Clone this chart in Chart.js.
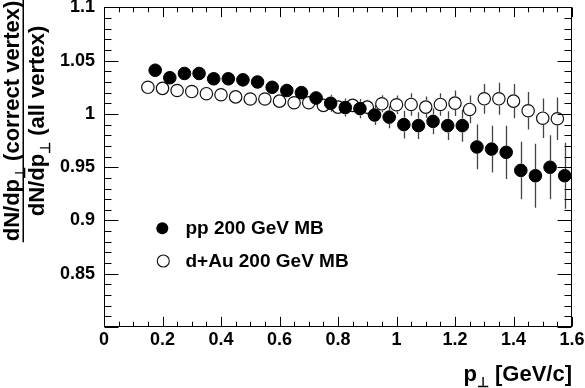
<!DOCTYPE html>
<html><head><meta charset="utf-8">
<script src="https://cdn.jsdelivr.net/npm/chart.js@4/dist/chart.umd.min.js"></script>
<style>html,body{margin:0;padding:0;background:#fff}</style>
</head><body>
<canvas id="c" width="585" height="388"></canvas>
<script>
// ---- data ----
const ppX = [0.175,0.225,0.275,0.325,0.375,0.425,0.475,0.525,0.575,0.625,0.675,0.725,0.775,0.825,0.875,0.925,0.975,1.025,1.075,1.125,1.175,1.225,1.275,1.325,1.375,1.425,1.475,1.525,1.575];
const ppY = [1.041,1.034,1.038,1.038,1.033,1.033,1.032,1.030,1.025,1.022,1.020,1.015,1.010,1.006,1.005,0.999,0.997,0.990,0.989,0.993,0.989,0.989,0.969,0.967,0.964,0.947,0.942,0.950,0.942];
const ppErr = [0.003,0.003,0.003,0.0035,0.0035,0.004,0.004,0.0045,0.005,0.0055,0.006,0.0065,0.008,0.0085,0.009,0.0095,0.0105,0.013,0.0126,0.012,0.0135,0.015,0.021,0.022,0.025,0.027,0.030,0.030,0.031];
const dAuX = [0.15,0.2,0.25,0.3,0.35,0.4,0.45,0.5,0.55,0.6,0.65,0.7,0.75,0.8,0.85,0.9,0.95,1.0,1.05,1.1,1.15,1.2,1.25,1.3,1.35,1.4,1.45,1.5,1.55];
const dAuY = [1.025,1.024,1.022,1.021,1.019,1.018,1.016,1.014,1.014,1.012,1.0105,1.0105,1.008,1.0064,1.008,1.0064,1.0095,1.0086,1.0089,1.0064,1.0089,1.0101,1.0042,1.0142,1.0142,1.012,1.003,0.996,0.9955];
const dAuErr = [0.002,0.002,0.002,0.0025,0.0025,0.003,0.003,0.0035,0.0035,0.004,0.004,0.0045,0.005,0.0055,0.006,0.007,0.008,0.0087,0.0105,0.010,0.0105,0.012,0.013,0.014,0.015,0.016,0.0175,0.0185,0.020];
const xTicks = [0,0.2,0.4,0.6,0.8,1.0,1.2,1.4,1.6];
const yTicks = [0.85,0.9,0.95,1.0,1.05,1.1];
const seriesNames = ['pp 200 GeV MB','d+Au 200 GeV MB'];
const xTitle = ['p','⊥',' [GeV/c]'];
const yTitleNum = ['dN/dp','⊥',' (correct vertex)'];
const yTitleDen = ['dN/dp','⊥',' (all vertex)'];

const FONT = "'Liberation Sans', Arial, Helvetica, sans-serif";
const R = 6.8;

const errs = [ppErr, dAuErr];

const errorBars = {
  id: 'errorBars',
  beforeDatasetsDraw(chart) {
    const ctx = chart.ctx, ys = chart.scales.y;
    ctx.save();
    ctx.strokeStyle = '#444';
    ctx.lineWidth = 1.3;
    chart.data.datasets.forEach((ds, di) => {
      const meta = chart.getDatasetMeta(di);
      meta.data.forEach((pt, i) => {
        const v = ds.data[i].y, e = errs[di][i];
        const yTop = ys.getPixelForValue(v + e), yBot = ys.getPixelForValue(v - e);
        const x = Math.round(pt.x) + 0.5;
        ctx.beginPath();
        if (pt.y - yTop > R) { ctx.moveTo(x, pt.y - R); ctx.lineTo(x, yTop); }
        if (yBot - pt.y > R) { ctx.moveTo(x, pt.y + R); ctx.lineTo(x, yBot); }
        ctx.stroke();
      });
    });
    ctx.restore();
  }
};

function drawParts(ctx, parts, x, y, big, small, subDy) {
  ctx.font = 'bold ' + big + 'px ' + FONT;
  ctx.fillText(parts[0], x, y);
  x += ctx.measureText(parts[0]).width;
  ctx.font = 'bold ' + small + 'px ' + FONT;
  ctx.fillText(parts[1], x, y + subDy);
  x += ctx.measureText(parts[1]).width;
  ctx.font = 'bold ' + big + 'px ' + FONT;
  ctx.fillText(parts[2], x, y);
}
function partsWidth(ctx, parts, big, small) {
  ctx.font = 'bold ' + big + 'px ' + FONT;
  let w = ctx.measureText(parts[0]).width + ctx.measureText(parts[2]).width;
  ctx.font = 'bold ' + small + 'px ' + FONT;
  return w + ctx.measureText(parts[1]).width;
}

const frame = {
  id: 'frame',
  afterDatasetsDraw(chart) {
    const ctx = chart.ctx, a = chart.chartArea, xs = chart.scales.x, ys = chart.scales.y;
    ctx.save();
    ctx.strokeStyle = '#000';
    ctx.lineWidth = 1;
    const L = Math.round(a.left) + 0.5, Rr = Math.round(a.right) - 0.5, T = Math.round(a.top) + 0.5, B = Math.round(a.bottom) - 0.5;
    ctx.strokeRect(L, T, Rr - L, B - T);
    ctx.beginPath();
    for (let k = 0; k <= 32; k++) {
      const v = k * 0.05;
      const px = Math.round(xs.getPixelForValue(v)) + 0.5;
      const len = (k % 4 === 0) ? 9.6 : 4.8;
      ctx.moveTo(px, B); ctx.lineTo(px, B - len);
      ctx.moveTo(px, T); ctx.lineTo(px, T + len);
    }
    for (let k = 0; k <= 30; k++) {
      const v = 0.8 + k * 0.01;
      const py = Math.round(ys.getPixelForValue(v)) + 0.5;
      const len = (k % 5 === 0) ? 14 : 7;
      ctx.moveTo(L, py); ctx.lineTo(L + len, py);
      ctx.moveTo(Rr, py); ctx.lineTo(Rr - len, py);
    }
    ctx.stroke();
    ctx.restore();
  },
  afterDraw(chart) {
    const ctx = chart.ctx, a = chart.chartArea;
    ctx.save();
    ctx.fillStyle = '#000';
    ctx.textBaseline = 'alphabetic';
    ctx.textAlign = 'left';
    const wx = partsWidth(ctx, xTitle, 22, 14);
    drawParts(ctx, xTitle, a.right - wx, 381, 22, 14, 6);
    ctx.translate(0, 121);
    ctx.rotate(-Math.PI / 2);
    const w1 = partsWidth(ctx, yTitleNum, 22, 14);
    const w2 = partsWidth(ctx, yTitleDen, 22, 14);
    drawParts(ctx, yTitleNum, -w1 / 2, 19, 22, 14, 6);
    drawParts(ctx, yTitleDen, -w2 / 2, 43.5, 22, 14, 6);
    const wl = Math.max(w1, w2) + 2;
    ctx.fillRect(-wl / 2, 22.5, wl, 1.5);
    ctx.restore();
    ctx.save();
    ctx.fillStyle = '#000';
    ctx.beginPath(); ctx.arc(162.3, 228.3, 6, 0, Math.PI * 2); ctx.fill();
    ctx.strokeStyle = '#111'; ctx.lineWidth = 1.1;
    ctx.beginPath(); ctx.arc(163.3, 261, 6, 0, Math.PI * 2); ctx.stroke();
    ctx.font = 'bold 19px ' + FONT;
    ctx.textBaseline = 'alphabetic';
    ctx.fillText(seriesNames[0], 185.5, 233.5);
    ctx.fillText(seriesNames[1], 185.5, 266.5);
    ctx.restore();
  }
};

const fmt = v => String(Number(v.toFixed(2)));

new Chart(document.getElementById('c'), {
  type: 'scatter',
  data: {
    datasets: [
      { label: seriesNames[0], data: ppX.map((x, i) => ({ x, y: ppY[i] })),
        pointRadius: R - 0.5, borderWidth: 1, backgroundColor: '#000', borderColor: '#000', pointHoverRadius: R - 0.5 },
      { label: seriesNames[1], data: dAuX.map((x, i) => ({ x, y: dAuY[i] })),
        pointRadius: R - 0.6, borderWidth: 1.2, backgroundColor: 'rgba(0,0,0,0)', borderColor: '#111', pointHoverRadius: R - 0.6 }
    ]
  },
  options: {
    responsive: false,
    animation: false,
    devicePixelRatio: 1,
    layout: { padding: { top: 6, right: 13, left: 0, bottom: 0 } },
    plugins: { legend: { display: false }, tooltip: { enabled: false } },
    scales: {
      x: {
        type: 'linear', min: 0, max: 1.6,
        grid: { display: false, drawTicks: false }, border: { display: false },
        afterBuildTicks: s => { s.ticks = xTicks.map(v => ({ value: v })); },
        afterFit: s => { s.height = 61; s.paddingLeft = 0; s.paddingRight = 0; },
        ticks: { color: '#000', font: { family: FONT, size: 18, weight: 'bold' }, padding: 2, maxRotation: 0, autoSkip: false, callback: v => fmt(v) }
      },
      y: {
        type: 'linear', min: 0.8, max: 1.1,
        grid: { display: false, drawTicks: false }, border: { display: false },
        afterBuildTicks: s => { s.ticks = yTicks.map(v => ({ value: v })); },
        afterFit: s => { s.width = 104; s.paddingTop = 0; s.paddingBottom = 0; },
        ticks: { color: '#000', font: { family: FONT, size: 18, weight: 'bold' }, padding: 9, autoSkip: false, callback: v => fmt(v) }
      }
    }
  },
  plugins: [errorBars, frame]
});
</script>
</body></html>
